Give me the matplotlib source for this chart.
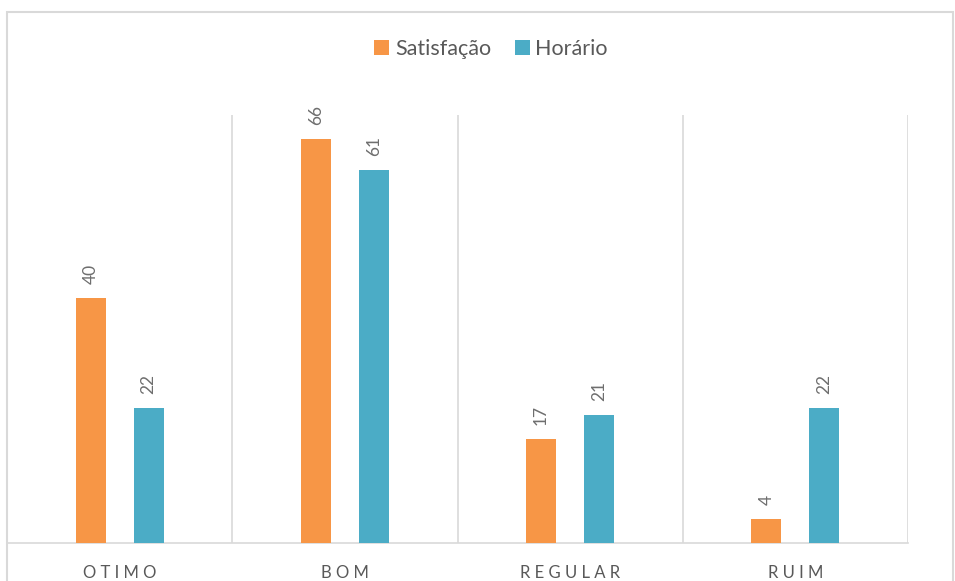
import matplotlib
matplotlib.use("Agg")
import matplotlib.pyplot as plt
from matplotlib.patches import Rectangle
import numpy as np

categories = ["OTIMO", "BOM", "REGULAR", "RUIM"]
satisfacao = [40, 66, 17, 4]
horario = [22, 61, 21, 22]
series_names = ["Satisfação", "Horário"]
colors = ["#F79646", "#4BACC6"]

plt.rcParams['font.family'] = ['Lato', 'DejaVu Sans']
W, H = 955, 581
fig = plt.figure(figsize=(W / 100, H / 100), dpi=100)
ax = fig.add_axes([7 / W, (H - 543) / H, (908 - 7) / W, (543 - 115) / H])

x = np.arange(len(categories))
bw = 30 / 225
off = 29 / 225
b1 = ax.bar(x - off, satisfacao, bw, color=colors[0], label=series_names[0], zorder=3)
b2 = ax.bar(x + off, horario, bw, color=colors[1], label=series_names[1], zorder=3)

for bars, vals in ((b1, satisfacao), (b2, horario)):
    for b, v in zip(bars, vals):
        ax.annotate(str(v), (b.get_x() + b.get_width() / 2, v), xytext=(0, 14),
                    textcoords="offset pixels",
                    rotation=90, ha="center", va="bottom", fontsize=12.5, color="#6E6E6E")

ax.set_xlim(-0.5, len(categories) - 0.5)
ax.set_ylim(0, 70)
ax.set_yticks([])
ax.set_xticks(x)
ax.set_xticklabels([" ".join(c) for c in categories], fontsize=12, color="#595959")
ax.tick_params(axis="x", length=0, pad=16)
ax.set_xticks(np.arange(len(categories) + 1) - 0.5, minor=True)
ax.tick_params(axis="x", which="minor", length=0)
ax.grid(axis="x", which="minor", color="#D9D9D9", linewidth=1.2, zorder=0)
for s in ["top", "right", "left"]:
    ax.spines[s].set_visible(False)
ax.spines["bottom"].set_color("#D9D9D9")
ax.spines["bottom"].set_linewidth(1.2)

leg = fig.legend(loc="center", bbox_to_anchor=(491 / W, 1 - 49 / H), ncol=2, frameon=False,
                 fontsize=15.5, handlelength=0.7, handleheight=0.7, handletextpad=0.25,
                 columnspacing=1.1, labelcolor="#595959")

fig.patches.append(Rectangle((7 / W, -0.05), (953 - 7) / W, 1.05 - 12 / H, transform=fig.transFigure,
                             fill=False, edgecolor="#D9D9D9", linewidth=1.5, zorder=10))

fig.savefig("out.png", dpi=100)
